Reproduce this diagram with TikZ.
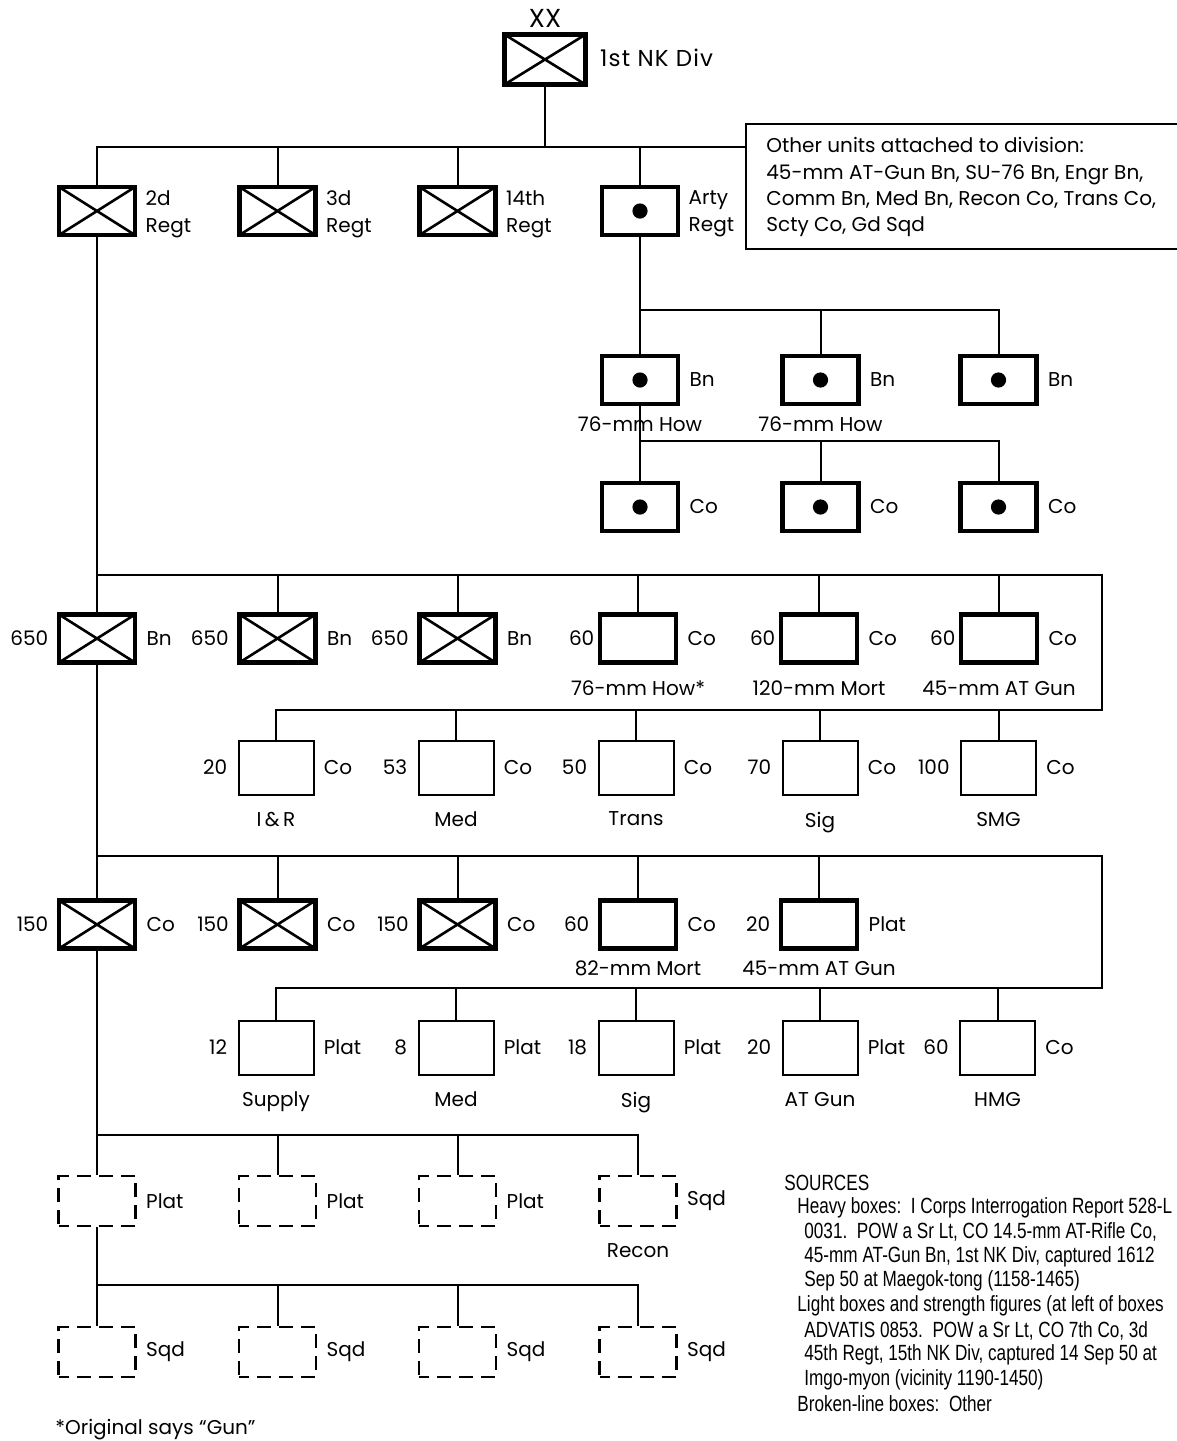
\documentclass[tikz,border=0pt]{standalone}
\usepackage{fontspec}
\setmainfont{Poppins}
\newfontfamily\srcfont[FakeStretch=0.78]{Liberation Sans}
\begin{document}
\begin{tikzpicture}[x=0.5pt,y=-0.5pt,
  conn/.style={line width=1pt},
  unitbox/.style={draw, inner sep=0pt, minimum width=38pt, minimum height=24pt},
  heavy/.style={unitbox, line width=2.3pt},
  light/.style={unitbox, line width=1pt, minimum width=37.5pt, minimum height=27pt},
  broken/.style={unitbox, line width=1.3pt, dash pattern=on 7pt off 4pt, dash phase=2pt, minimum width=38.5pt, minimum height=25pt},
  inf/.style={path picture={\draw[line width=1.3pt] (path picture bounding box.north west) -- (path picture bounding box.south east) (path picture bounding box.south west) -- (path picture bounding box.north east);}},
  art/.style={path picture={\fill (path picture bounding box.center) circle (3.8pt);}},
  lab/.style={inner sep=0pt, font=\fontsize{10}{12}\selectfont},
  lft/.style={label={[lab, label distance=4pt]left:#1}},
  rgt/.style={label={[lab, label distance=4.5pt]right:#1}},
  sub/.style={label={[lab, label distance=8pt]below:#1}},
  subc/.style={label={[lab, label distance=5pt]below:#1}},
  regt/.style={label={[lab, align=left, font=\fontsize{10}{13.5}\selectfont, label distance=4pt, yshift=-1.5pt]right:#1}},
  src/.style={inner sep=0pt, anchor=west, font=\srcfont\fontsize{11}{13}\selectfont},
]
\path[use as bounding box, clip] (0,0) rectangle (1177,1441);

% division
\node[heavy, inf, minimum width=40.5pt, minimum height=25pt,
  label={[lab, font=\fontsize{13}{15}\selectfont, label distance=2pt]above:XX},
  label={[lab, font=\fontsize{11.5}{14}\addfontfeature{LetterSpace=5}\selectfont, label distance=6pt, yshift=1pt]right:1st NK Div}] (div) at (545,59.5) {};

% regiments
\node[heavy, inf, regt={2d\\Regt}] (r2) at (97,211) {};
\node[heavy, inf, regt={3d\\Regt}] (r3) at (277.5,211) {};
\node[heavy, inf, regt={14th\\Regt}] (r14) at (457.5,211) {};
\node[heavy, art, regt={Arty\\Regt}] (arty) at (640,211) {};

% legend box
\node[draw, line width=1pt, anchor=north west, minimum width=230pt, minimum height=62.5pt, inner sep=0pt] (legend) at (745,123) {};
\node[lab, anchor=north west, align=left, font=\fontsize{10}{13.2}\selectfont] (legtext) at (766,137)
  {Other units attached to division:\\45-mm AT-Gun Bn, SU-76 Bn, Engr Bn,\\Comm Bn, Med Bn, Recon Co, Trans Co,\\Scty Co, Gd Sqd};

\coordinate (bus0) at (545,147);
\draw[conn] (div.south) -- (bus0);
\draw[conn] (r2.north) |- (legend.west |- bus0);
\foreach \n in {r3,r14,arty} \draw[conn] (\n.north) -- (\n.north |- bus0);

% artillery battalions and companies
\node[heavy, art, rgt=Bn, subc={76-mm How}] (ab1) at (640,380) {};
\node[heavy, art, rgt=Bn, subc={76-mm How}] (ab2) at (820.5,380) {};
\node[heavy, art, rgt=Bn] (ab3) at (998.5,380) {};
\coordinate (abus) at (640,310);
\draw[conn] (arty.south) -- (ab1.north);
\draw[conn] (ab1.north |- abus) -| (ab3.north);
\draw[conn] (ab2.north) -- (ab2.north |- abus);

\node[heavy, art, rgt=Co] (ac1) at (640,507) {};
\node[heavy, art, rgt=Co] (ac2) at (820.5,507) {};
\node[heavy, art, rgt=Co] (ac3) at (998.5,507) {};
\coordinate (acbus) at (640,441);
\draw[conn] (ab1.south) -- (ac1.north);
\draw[conn] (ac1.north |- acbus) -| (ac3.north);
\draw[conn] (ac2.north) -- (ac2.north |- acbus);

% battalion level
\node[heavy, inf, lft=650, rgt=Bn] (b1) at (97,638.5) {};
\node[heavy, inf, lft=650, rgt=Bn] (b2) at (277.5,638.5) {};
\node[heavy, inf, lft=650, rgt=Bn] (b3) at (457.5,638.5) {};
\node[heavy, label={[lab, label distance=1.5pt]left:60}, rgt=Co, sub={76-mm How*}] (b4) at (638,638.5) {};
\node[heavy, label={[lab, label distance=1.5pt]left:60}, rgt=Co, sub={120-mm Mort}] (b5) at (819,638.5) {};
\node[heavy, label={[lab, label distance=1.5pt]left:60}, rgt=Co, sub={45-mm AT Gun}] (b6) at (999,638.5) {};

\node[light, label={[lab, label distance=5pt]left:20}, rgt=Co, sub={I\,\&\,R}] (s1) at (276,767.5) {};
\node[light, label={[lab, label distance=5pt]left:53}, rgt=Co, sub={Med}] (s2) at (456,767.5) {};
\node[light, label={[lab, label distance=5pt]left:50}, rgt=Co, sub={Trans}] (s3) at (636,767.5) {};
\node[light, label={[lab, label distance=5pt]left:70}, rgt=Co, sub={Sig}] (s4) at (820,767.5) {};
\node[light, label={[lab, label distance=5pt]left:100}, rgt=Co, sub={SMG}] (s5) at (998.5,767.5) {};

\coordinate (bus1) at (97,575);
\coordinate (bus1r) at (1102,575);
\coordinate (bus1b) at (1102,710);
\draw[conn] (r2.south) -- (b1.north);
\draw[conn] (bus1) -- (bus1r) -- (bus1b) -- (bus1b -| s1.north) -- (s1.north);
\foreach \n in {b2,b3,b4,b5,b6} \draw[conn] (\n.north) -- (\n.north |- bus1);
\foreach \n in {s2,s3,s4,s5} \draw[conn] (\n.north) -- (\n.north |- bus1b);

% company level
\node[heavy, inf, lft=150, rgt=Co] (c1) at (97,924.5) {};
\node[heavy, inf, lft=150, rgt=Co] (c2) at (277.5,924.5) {};
\node[heavy, inf, lft=150, rgt=Co] (c3) at (457.5,924.5) {};
\node[heavy, lft=60, rgt=Co, subc={82-mm Mort}] (c4) at (638,924.5) {};
\node[heavy, lft=20, rgt=Plat, subc={45-mm AT Gun}] (c5) at (819,924.5) {};

\node[light, label={[lab, label distance=5pt]left:12}, rgt=Plat, sub={Supply}] (p1) at (276,1047.5) {};
\node[light, label={[lab, label distance=5pt]left:8}, rgt=Plat, sub={Med}] (p2) at (456,1047.5) {};
\node[light, label={[lab, label distance=5pt]left:18}, rgt=Plat, sub={Sig}] (p3) at (636,1047.5) {};
\node[light, label={[lab, label distance=5pt]left:20}, rgt=Plat, sub={AT Gun}] (p4) at (820,1047.5) {};
\node[light, label={[lab, label distance=5pt]left:60}, rgt=Co, sub={HMG}] (p5) at (997.5,1047.5) {};

\coordinate (bus2) at (97,856);
\coordinate (bus2r) at (1102,856);
\coordinate (bus2b) at (1102,988);
\draw[conn] (b1.south) -- (c1.north);
\draw[conn] (bus2) -- (bus2r) -- (bus2b) -- (bus2b -| p1.north) -- (p1.north);
\foreach \n in {c2,c3,c4,c5} \draw[conn] (\n.north) -- (\n.north |- bus2);
\foreach \n in {p2,p3,p4,p5} \draw[conn] (\n.north) -- (\n.north |- bus2b);

% platoon level (broken-line)
\node[broken, rgt=Plat] (d1) at (97,1201) {};
\node[broken, rgt=Plat] (d2) at (277.5,1201) {};
\node[broken, rgt=Plat] (d3) at (457.5,1201) {};
\node[broken, rgt=Sqd, sub={Recon}] (d4) at (638,1201) {};
\coordinate (bus3) at (97,1135);
\draw[conn] (c1.south) -- (d1.north);
\draw[conn] (d1.north |- bus3) -| (d4.north);
\foreach \n in {d2,d3} \draw[conn] (\n.north) -- (\n.north |- bus3);

\node[broken, rgt=Sqd] (q1) at (97,1352) {};
\node[broken, rgt=Sqd] (q2) at (277.5,1352) {};
\node[broken, rgt=Sqd] (q3) at (457.5,1352) {};
\node[broken, rgt=Sqd] (q4) at (638,1352) {};
\coordinate (bus4) at (97,1285);
\draw[conn] (d1.south) -- (q1.north);
\draw[conn] (q1.north |- bus4) -| (q4.north);
\foreach \n in {q2,q3} \draw[conn] (\n.north) -- (\n.north |- bus4);

% footnote
\node[lab, anchor=west, font=\fontsize{10}{12}\selectfont] (foot) at (55,1430) {*Original says “Gun”};

% sources
\node[src] (s0) at (784,1183) {SOURCES};
\node[src] (s1t) at (797,1208) {Heavy boxes:\ \ I Corps Interrogation Report 528-L};
\node[src] (s2t) at (804,1232) {0031.\ \ POW a Sr Lt, CO 14.5-mm AT-Rifle Co,};
\node[src] (s3t) at (804,1257) {45-mm AT-Gun Bn, 1st NK Div, captured 1612};
\node[src] (s4t) at (804,1281) {Sep 50 at Maegok-tong (1158-1465)};
\node[src] (s5t) at (797,1306) {Light boxes and strength figures (at left of boxes};
\node[src] (s6t) at (804,1331) {ADVATIS 0853.\ \ POW a Sr Lt, CO 7th Co, 3d};
\node[src] (s7t) at (804,1355) {45th Regt, 15th NK Div, captured 14 Sep 50 at};
\node[src] (s8t) at (804,1380) {Imgo-myon (vicinity 1190-1450)};
\node[src] (s9t) at (797,1404) {Broken-line boxes:\ \ Other};
\end{tikzpicture}
\end{document}
